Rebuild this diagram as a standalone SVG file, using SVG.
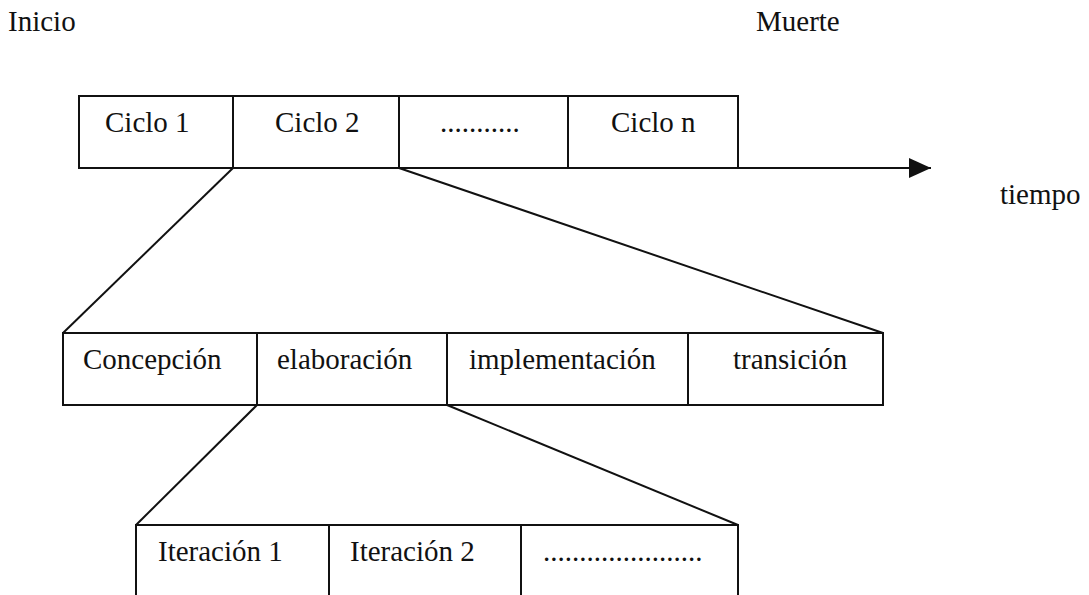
<svg xmlns="http://www.w3.org/2000/svg" width="1089" height="595" viewBox="0 0 1089 595">
  <style>
    .box { fill: none; stroke: #111; stroke-width: 2; }
    .ln { fill: none; stroke: #111; stroke-width: 2; }
    text { font-family: "Liberation Serif", "Times New Roman", serif; font-size: 29px; fill: #111; }
  </style>
  <defs>
    <marker id="arrow" viewBox="0 0 22 20" refX="22" refY="10" markerWidth="22" markerHeight="20" markerUnits="userSpaceOnUse" orient="auto">
      <path d="M0,0 L22,10 L0,20 Z" fill="#111"/>
    </marker>
  </defs>
  <rect width="1089" height="595" fill="#fff"/>

  <!-- labels -->
  <text x="8" y="31">Inicio</text>
  <text x="756" y="31">Muerte</text>
  <text x="1000" y="204">tiempo</text>

  <!-- time axis -->
  <g id="axis">
    <line class="ln" x1="738" y1="168" x2="931" y2="168" marker-end="url(#arrow)"/>
  </g>

  <!-- cycles -->
  <g id="ciclo1"><rect class="box" x="79" y="96" width="154" height="72"/><text x="105" y="132">Ciclo 1</text></g>
  <g id="ciclo2"><rect class="box" x="233" y="96" width="166" height="72"/><text x="275" y="132">Ciclo 2</text></g>
  <g id="ciclo-dots"><rect class="box" x="399" y="96" width="169" height="72"/><text x="440" y="132">...........</text></g>
  <g id="ciclon"><rect class="box" x="568" y="96" width="170" height="72"/><text x="611" y="132">Ciclo n</text></g>

  <!-- phases -->
  <g id="concepcion"><rect class="box" x="63" y="333" width="194" height="72"/><text x="83" y="369">Concepción</text></g>
  <g id="elaboracion"><rect class="box" x="257" y="333" width="190" height="72"/><text x="277" y="369">elaboración</text></g>
  <g id="implementacion"><rect class="box" x="447" y="333" width="241" height="72"/><text x="469" y="369">implementación</text></g>
  <g id="transicion"><rect class="box" x="688" y="333" width="195" height="72"/><text x="733" y="369">transición</text></g>

  <!-- iterations -->
  <g id="iteracion1"><rect class="box" x="136" y="525" width="193" height="80"/><text x="158" y="561">Iteración 1</text></g>
  <g id="iteracion2"><rect class="box" x="329" y="525" width="192" height="80"/><text x="350" y="561">Iteración 2</text></g>
  <g id="iteracion-dots"><rect class="box" x="521" y="525" width="217" height="80"/><text x="543" y="561">......................</text></g>

  <!-- expansion connectors -->
  <g id="connectors">
    <line class="ln" x1="233" y1="168" x2="63" y2="333"/>
    <line class="ln" x1="399" y1="168" x2="883" y2="333"/>
    <line class="ln" x1="257" y1="405" x2="136" y2="525"/>
    <line class="ln" x1="447" y1="405" x2="738" y2="525"/>
  </g>
</svg>
